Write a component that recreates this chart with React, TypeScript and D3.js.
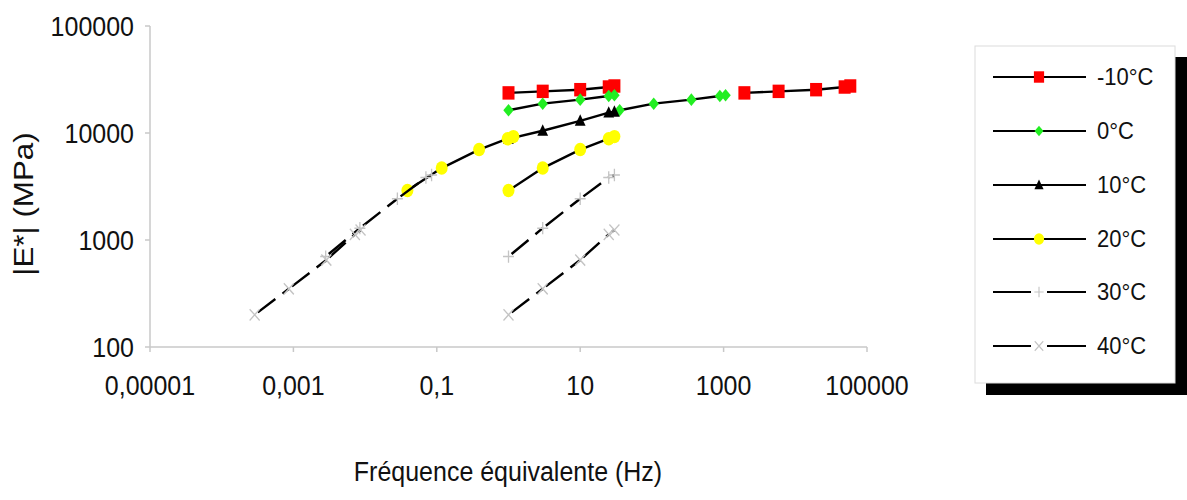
import React from "react";
import * as d3 from "d3";

// ---- data ----
const temps = ["-10°C", "0°C", "10°C", "20°C", "30°C", "40°C"];
const freqMeasured = [1, 3, 10, 25, 30];

// |E*| (MPa) at the measured frequencies, per temperature
const E_m10 = [23700, 24500, 25400, 26900, 27500];
const E_0 = [16300, 18800, 20500, 22200, 22500];
const E_10 = [8800, 10500, 13000, 15500, 15800];
const E_20 = [2900, 4700, 7000, 8850, 9250];
const E_30 = [700, 1290, 2430, 3840, 4050];
const E_40 = [200, 350, 650, 1130, 1240];

// equivalent (shifted) frequencies on the master curve (Hz)
const F_m10 = [1950, 5850, 19500, 48750, 58500];
const F_0 = [35.5, 106, 355, 887, 1065];
const F_10 = [1, 3, 10, 25, 30];
const F_20 = [0.0389, 0.117, 0.389, 0.973, 1.17];
const F_30 = [0.00282, 0.00846, 0.0282, 0.0705, 0.0846];
const F_40 = [0.000288, 0.000864, 0.00288, 0.0072, 0.00864];

const xTicks = [1e-5, 1e-3, 0.1, 10, 1000, 1e5];
const xTickLabels = ["0,00001", "0,001", "0,1", "10", "1000", "100000"];
const yTicks = [100, 1000, 10000, 100000];
const yTickLabels = ["100", "1000", "10000", "100000"];

const seriesE = [E_m10, E_0, E_10, E_20, E_30, E_40];
const seriesF = [F_m10, F_0, F_10, F_20, F_30, F_40];
const markerKind = ["square", "diamond", "triangle", "circle", "plus", "cross"];
const markerFill = ["#ff0000", "#22ee22", "#000000", "#ffff00", "none", "none"];
const dashed = [false, false, false, false, true, true];

const FONT = "'Liberation Sans', Arial, Helvetica, sans-serif";
const SY = 1.12;
const AXIS = "#c8c8c8";
const MARK_GRAY = "#c4c4c4";

function Marker({ kind, fill, cx, cy, s = 1 }: { kind: string; fill: string; cx: number; cy: number; s?: number }) {
  const t = `translate(${cx},${cy}) scale(${s},${s * SY})`;
  if (kind === "square") return <rect transform={t} x={-6} y={-6} width={12} height={12} fill={fill} />;
  if (kind === "diamond") return <path transform={t} d="M0,-5.6L5.2,0L0,5.6L-5.2,0Z" fill={fill} />;
  if (kind === "triangle") return <path transform={t} d="M0,-5.8L5.4,4.4L-5.4,4.4Z" fill={fill} />;
  if (kind === "circle") return <ellipse transform={t} rx={6} ry={6} fill={fill} />;
  if (kind === "plus")
    return <path transform={t} d="M-5.5,0H5.5M0,-5.5V5.5" stroke={MARK_GRAY} strokeWidth={1.3} fill="none" />;
  return <path transform={t} d="M-5,-5L5,5M-5,5L5,-5" stroke={MARK_GRAY} strokeWidth={1.3} fill="none" />;
}

export default function App() {
  const x = d3.scaleLog().domain([1e-5, 1e5]).range([150, 867]);
  const y = d3.scaleLog().domain([100, 1e5]).range([347, 26]);

  const lineStroke = (i: number, key: string, pts: [number, number][]) => {
    if (!dashed[i]) {
      const d = d3.line()(pts) as string;
      return <path key={key} d={d} stroke="#000" strokeWidth={2.4} fill="none" strokeLinejoin="round" />;
    }
    // dashed series: each segment dashed separately
    return (
      <g key={key}>
        {pts.slice(1).map((p, j) => (
          <path
            key={j}
            d={d3.line()([pts[j], p]) as string}
            stroke="#000"
            strokeWidth={2.4}
            fill="none"
            strokeDasharray="22 9"
            strokeDashoffset={27}
          />
        ))}
      </g>
    );
  };

  const legendRows = [77, 131, 185, 239, 292, 346];

  return (
    <svg width={1187} height={500} style={{ position: "absolute", left: 0, top: 0, background: "#fff" }} fontFamily={FONT}>
      <rect x={0} y={0} width={1187} height={500} fill="#fff" />
      {/* axes */}
      <line x1={150} y1={26} x2={150} y2={347} stroke={AXIS} strokeWidth={1.5} />
      <line x1={150} y1={347} x2={867} y2={347} stroke={AXIS} strokeWidth={1.5} />
      {yTicks.map((t, i) => (
        <g key={"yt" + i}>
          <line x1={145} x2={150} y1={y(t)} y2={y(t)} stroke={AXIS} strokeWidth={1.5} />
          <text transform={`translate(134,${y(t) + 10}) scale(1,${SY})`} textAnchor="end" fontSize={25} fill="#111">
            {yTickLabels[i]}
          </text>
        </g>
      ))}
      {xTicks.map((t, i) => (
        <g key={"xt" + i}>
          <line x1={x(t)} x2={x(t)} y1={347} y2={352} stroke={AXIS} strokeWidth={1.5} />
          <text transform={`translate(${x(t)},395) scale(1,${SY})`} textAnchor="middle" fontSize={25} fill="#111">
            {xTickLabels[i]}
          </text>
        </g>
      ))}
      {/* axis titles */}
      <text transform={`translate(508,481) scale(1,${SY})`} textAnchor="middle" fontSize={25} fill="#111">
        Fréquence équivalente (Hz)
      </text>
      <text transform={`translate(33,204) scale(1,${SY}) rotate(-90)`} textAnchor="middle" fontSize={28} fill="#111">
        |E*| (MPa)
      </text>

      {/* series */}
      {seriesE.map((E, i) => {
        const measured: [number, number][] = freqMeasured.map((f, j) => [x(f), y(E[j])]);
        const master: [number, number][] = seriesF[i].map((f, j) => [x(f), y(E[j])]);
        const same = i === 2;
        return (
          <g key={"s" + i}>
            {lineStroke(i, "m", measured)}
            {!same && lineStroke(i, "M", master)}
            {measured.map((p, j) => (
              <Marker key={"a" + j} kind={markerKind[i]} fill={markerFill[i]} cx={p[0]} cy={p[1]} />
            ))}
            {!same &&
              master.map((p, j) => (
                <Marker key={"b" + j} kind={markerKind[i]} fill={markerFill[i]} cx={p[0]} cy={p[1]} />
              ))}
          </g>
        );
      })}

      {/* legend */}
      <rect x={986} y={57} width={201} height={338} fill="#000" />
      <rect x={975} y={46} width={200} height={337} fill="#fff" stroke="#dcdcdc" strokeWidth={1} />
      {temps.map((t, i) => {
        const yy = legendRows[i];
        return (
          <g key={"lg" + i}>
            {dashed[i] ? (
              <>
                <line x1={993} x2={1031} y1={yy} y2={yy} stroke="#000" strokeWidth={2} />
                <line x1={1047} x2={1086} y1={yy} y2={yy} stroke="#000" strokeWidth={2} />
              </>
            ) : (
              <line x1={993} x2={1086} y1={yy} y2={yy} stroke="#000" strokeWidth={2} />
            )}
            <Marker kind={markerKind[i]} fill={markerFill[i]} cx={1039} cy={yy} s={0.85} />
            <text transform={`translate(1097,${yy + 8}) scale(1,1.08)`} fontSize={22} fill="#111">
              {t}
            </text>
          </g>
        );
      })}
    </svg>
  );
}
